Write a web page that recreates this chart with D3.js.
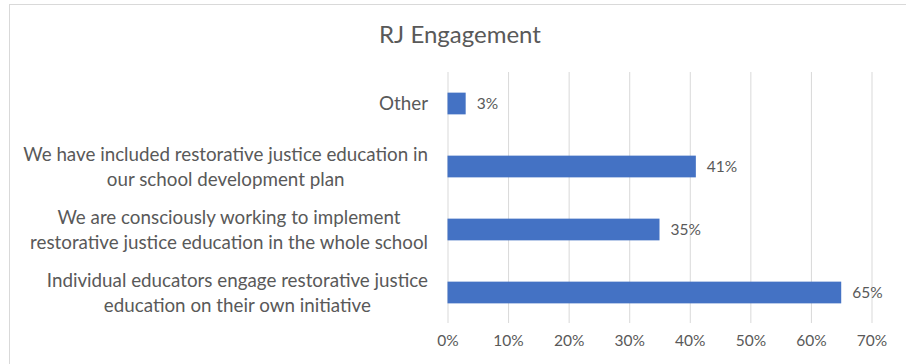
<!DOCTYPE html>
<html>
<head>
<meta charset="utf-8">
<script src="https://cdn.jsdelivr.net/npm/d3@7"></script>
<style>
  body { margin: 0; background: #fff; }
  text { font-family: Lato, "Open Sans", sans-serif; fill: #595959; }
</style>
</head>
<body>
<div id="chart"></div>
<script>
var categories = [
  ['Other'],
  ['We have included restorative justice education in', 'our school development plan'],
  ['We are consciously working to implement', 'restorative justice education in the whole school'],
  ['Individual educators engage restorative justice', 'education on their own initiative']
]
var values = [3, 41, 35, 65]
var ticks = [0, 10, 20, 30, 40, 50, 60, 70]

var width = 906
var height = 364

var svg = d3.select('#chart').append('svg')
  .attr('width', width)
  .attr('height', height)

// chart area border (runs off the right and bottom edges)
svg.append('rect')
  .attr('x', 9.5).attr('y', 4.5)
  .attr('width', 920).attr('height', 400)
  .attr('fill', '#fff')
  .attr('stroke', '#d9d9d9')

svg.append('text')
  .attr('x', 460).attr('y', 43)
  .attr('text-anchor', 'middle')
  .style('font-size', '24px')
  .text('RJ Engagement')

var xScale = d3.scaleLinear().domain([0, 70]).range([447.5, 871.5])
var yScale = d3.scaleBand()
  .domain(d3.range(categories.length))
  .range([72, 324])
  .paddingInner(0.655)
  .paddingOuter(0.3275)

var xAxis = d3.axisBottom(xScale)
  .tickValues(ticks)
  .tickFormat(function (d) { return d + '%' })
  .tickSizeInner(-(323 - 72))
  .tickSizeOuter(0)
  .tickPadding(12)

var gx = svg.append('g')
  .attr('transform', 'translate(0,323)')
  .call(xAxis)
gx.select('.domain').remove()
gx.selectAll('line').attr('stroke', '#d9d9d9')
gx.selectAll('text')
  .style('font-size', '15.5px')
  .attr('fill', '#595959')

svg.append('g').selectAll('rect')
  .data(values)
  .enter().append('rect')
  .attr('x', xScale(0))
  .attr('y', function (d, i) { return yScale(i) })
  .attr('width', function (d) { return xScale(d) - xScale(0) })
  .attr('height', yScale.bandwidth())
  .attr('fill', '#4472c4')

svg.append('g').selectAll('text')
  .data(values)
  .enter().append('text')
  .attr('x', function (d) { return xScale(d) + 11 })
  .attr('y', function (d, i) { return yScale(i) + yScale.bandwidth() / 2 })
  .attr('dy', '0.35em')
  .style('font-size', '15.5px')
  .text(function (d) { return d + '%' })

// category labels: lines centred on each other, block right-aligned
var lineHeight = 25
var labelRight = 428
var labels = svg.append('g').selectAll('text')
  .data(categories)
  .enter().append('text')
  .style('font-size', '18.8px')
  .attr('text-anchor', 'middle')
labels.each(function (lines, i) {
  var t = d3.select(this)
  var cy = yScale(i) + yScale.bandwidth() / 2
  var top = cy - (lines.length - 1) * lineHeight / 2
  lines.forEach(function (line, j) {
    t.append('tspan').attr('y', top + j * lineHeight).attr('dy', '0.35em').text(line)
  })
  var maxW = 0
  t.selectAll('tspan').each(function () {
    maxW = Math.max(maxW, this.getComputedTextLength())
  })
  t.selectAll('tspan').attr('x', labelRight - maxW / 2)
})
</script>
</body>
</html>
